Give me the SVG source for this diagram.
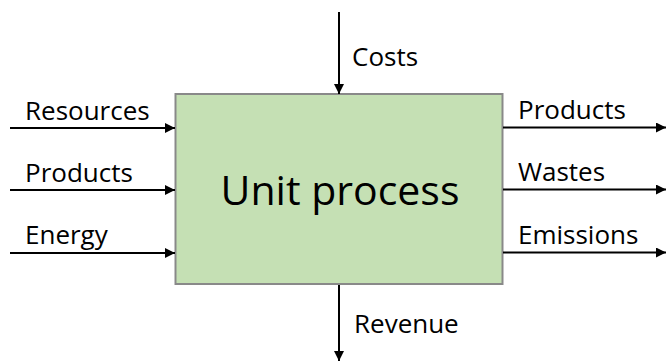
<svg xmlns="http://www.w3.org/2000/svg" width="667" height="363" viewBox="0 0 667 363">
  <style>
    .lbl { font-family: "Open Sans", "Liberation Sans", sans-serif; font-size: 26px; fill: #000; }
    .title { font-family: "Open Sans", "Liberation Sans", sans-serif; font-size: 41px; fill: #000; }
    .flow { stroke: #000; stroke-width: 2; fill: none; marker-end: url(#head); }
  </style>
  <defs>
    <marker id="head" viewBox="0 0 10 10" refX="10" refY="5" markerWidth="5" markerHeight="5" markerUnits="strokeWidth" orient="auto">
      <path d="M0,0 L10,5 L0,10 Z" fill="#000"/>
    </marker>
  </defs>
  <rect width="667" height="363" fill="#fff"/>

  <g id="unit-process">
    <rect x="175.5" y="94" width="327" height="190" fill="#C5E0B4" stroke="#898989" stroke-width="2"/>
    <text class="title" x="340" y="205" text-anchor="middle">Unit process</text>
  </g>

  <g id="connectors">
    <line class="flow" x1="10" y1="128" x2="175" y2="128"/>
    <line class="flow" x1="10" y1="190" x2="175" y2="190"/>
    <line class="flow" x1="10" y1="253" x2="175" y2="253"/>
    <line class="flow" x1="503" y1="127.5" x2="666" y2="127.5"/>
    <line class="flow" x1="503" y1="189.5" x2="666" y2="189.5"/>
    <line class="flow" x1="503" y1="252.5" x2="666" y2="252.5"/>
    <line class="flow" x1="339" y1="12" x2="339" y2="94"/>
    <line class="flow" x1="339" y1="285" x2="339" y2="361"/>
  </g>

  <g id="labels">
    <text class="lbl" x="25" y="120">Resources</text>
    <text class="lbl" x="25" y="182">Products</text>
    <text class="lbl" x="25" y="244">Energy</text>
    <text class="lbl" x="518" y="119">Products</text>
    <text class="lbl" x="518" y="181">Wastes</text>
    <text class="lbl" x="518" y="244">Emissions</text>
    <text class="lbl" x="352" y="66">Costs</text>
    <text class="lbl" x="354" y="333">Revenue</text>
  </g>
</svg>
